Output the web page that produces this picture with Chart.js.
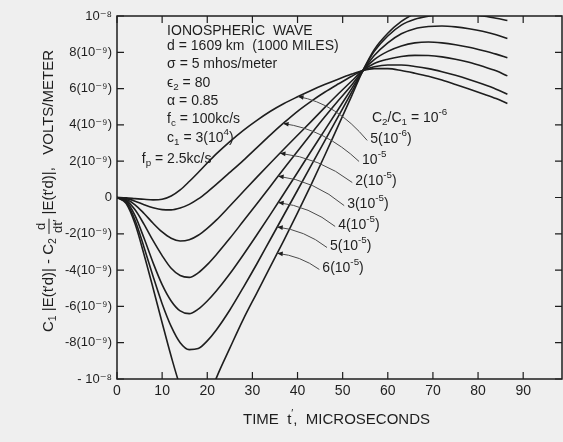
<!DOCTYPE html>
<html lang="en">
  <head>
    <meta charset="UTF-8" />
    <title>Ionospheric Wave</title>
    <style>
      body {
        margin: 0;
        background: #efefef;
      }
      #wrap {
        width: 563px;
        height: 442px;
      }
    </style>
  </head>
  <body>
    <div id="wrap"><canvas id="waveChart" width="563" height="442"></canvas></div>

    <script src="https://cdn.jsdelivr.net/npm/chart.js"></script>
    <script>
      // time axis, microseconds
      const timeUs = [0, 2, 4, 6, 8, 10, 12, 14, 16, 18, 20, 22, 25, 28, 31, 34, 37, 40, 43, 46, 49, 52, 54.5, 57, 60, 63, 66, 69, 72, 75, 78, 81, 84, 86.5];

      // curve values in units of 10^-9 volts/meter
      const curve1 = [0, -0.02, -0.06, -0.1, -0.13, -0.1, 0.08, 0.42, 0.88, 1.38, 1.9, 2.4, 3.08, 3.7, 4.25, 4.75, 5.18, 5.55, 5.9, 6.22, 6.52, 6.8, 7.0, 7.1, 7.1, 7.0, 6.85, 6.68, 6.47, 6.23, 5.98, 5.72, 5.45, 5.18];
      const curve2 = [0, -0.05, -0.2, -0.4, -0.57, -0.67, -0.68, -0.58, -0.38, -0.08, 0.3, 0.72, 1.38, 2.05, 2.75, 3.45, 4.12, 4.75, 5.3, 5.8, 6.25, 6.68, 7.0, 7.2, 7.3, 7.3, 7.22, 7.1, 6.93, 6.73, 6.5, 6.25, 5.97, 5.69];
      const curve3 = [0, -0.1, -0.4, -0.88, -1.42, -1.9, -2.25, -2.4, -2.33, -2.08, -1.7, -1.25, -0.47, 0.33, 1.12, 1.9, 2.67, 3.43, 4.18, 4.95, 5.7, 6.42, 7.0, 7.38, 7.62, 7.77, 7.83, 7.82, 7.75, 7.62, 7.45, 7.23, 6.98, 6.7];
      const curve4 = [0, -0.15, -0.68, -1.48, -2.38, -3.2, -3.9, -4.3, -4.4, -4.15, -3.7, -3.15, -2.25, -1.3, -0.35, 0.62, 1.6, 2.55, 3.5, 4.43, 5.33, 6.2, 7.0, 7.6, 8.05, 8.35, 8.52, 8.57, 8.52, 8.42, 8.28, 8.1, 7.9, 7.7];
      const curve5 = [0, -0.2, -1.0, -2.25, -3.6, -4.8, -5.7, -6.25, -6.4, -6.15, -5.7, -5.15, -4.2, -3.15, -2.05, -0.93, 0.22, 1.38, 2.55, 3.7, 4.85, 6.0, 6.97, 7.82, 8.52, 9.02, 9.3, 9.42, 9.45, 9.4, 9.3, 9.16, 8.97, 8.76];
      const curve6 = [0, -0.28, -1.25, -2.75, -4.35, -5.85, -7.1, -8.0, -8.38, -8.32, -7.9, -7.3, -6.2, -4.95, -3.65, -2.3, -0.95, 0.4, 1.75, 3.1, 4.45, 5.8, 7.0, 8.05, 8.9, 9.5, 9.82, 9.99, 10.1, 10.13, 10.1, 10.0, 9.88, 9.75];
      const curve7 = [0, -0.32, -1.45, -3.15, -5.0, -6.9, -8.75, -10.4, -11.5, -11.85, -11.3, -9.95, -8.3, -6.7, -5.25, -3.8, -2.35, -0.85, 0.7, 2.3, 3.95, 5.6, 7.0, 8.15, 9.05, 9.7, 10.15, 10.5, 10.75, 10.9, 11.0, 11.0, 10.95, 10.85];
      const curves = [curve1, curve2, curve3, curve4, curve5, curve6, curve7];

      // C2/C1 labels, one per curve: [mantissa, exponent, closing]
      const ratioLabels = [
        ["5(10", "-6", ")"],
        ["10", "-5", ""],
        ["2(10", "-5", ")"],
        ["3(10", "-5", ")"],
        ["4(10", "-5", ")"],
        ["5(10", "-5", ")"],
        ["6(10", "-5", ")"],
      ];
      // where each leader touches its curve (time) and where its label sits (time, value)
      const leaderTime = [40.1, 36.8, 36.1, 35.7, 35.7, 35.5, 35.5];
      const labelTime = [56.1, 54.3, 52.8, 51.0, 49.0, 47.2, 45.5];
      const labelValue = [3.2, 2.04, 0.88, -0.39, -1.54, -2.7, -3.91];

      const xTicks = [0, 10, 20, 30, 40, 50, 60, 70, 80, 90];
      const yTicks = [-10, -8, -6, -4, -2, 0, 2, 4, 6, 8, 10];
      const yTickLabels = ["- 10⁻⁸", "-8(10⁻⁹)", "-6(10⁻⁹)", "-4(10⁻⁹)", "-2(10⁻⁹)", "0", "2(10⁻⁹)", "4(10⁻⁹)", "6(10⁻⁹)", "8(10⁻⁹)", "10⁻⁸"];

      const FONT = '"Liberation Sans", "DejaVu Sans", sans-serif';
      const INK = "#1e1e1e";

      // parameter block, placed in data units
      const notes = [
        { t: 11.1, v: 9.15, parts: [["IONOSPHERIC  WAVE"]] },
        { t: 11.1, v: 8.32, parts: [["d = 1609 km  (1000 MILES)"]] },
        { t: 11.1, v: 7.33, parts: [["σ = 5 mhos/meter"]] },
        { t: 11.1, v: 6.28, parts: [["ϵ"], ["2", "sub"], [" = 80"]] },
        { t: 11.1, v: 5.29, parts: [["α = 0.85"]] },
        { t: 11.1, v: 4.3, parts: [["f"], ["c", "sub"], [" = 100kc/s"]] },
        { t: 11.1, v: 3.25, parts: [["c"], ["1", "sub"], [" = 3(10"], ["4", "sup"], [")"]] },
        { t: 5.5, v: 2.09, parts: [["f"], ["p", "sub"], [" = 2.5kc/s"]] },
        { t: 56.5, v: 4.35, parts: [["C"], ["2", "sub"], ["/C"], ["1", "sub"], [" = 10"], ["-6", "sup"]] },
      ];

      function drawRich(ctx, parts, x, y, size, measureOnly) {
        let cx = x;
        for (const [text, kind] of parts) {
          const s = kind ? size * 0.7 : size;
          ctx.font = `${s}px ${FONT}`;
          const dy = kind === "sub" ? size * 0.3 : kind === "sup" ? -size * 0.42 : 0;
          if (!measureOnly) ctx.fillText(text, cx, y + dy);
          cx += ctx.measureText(text).width;
        }
        return cx - x;
      }

      function valueAt(arr, t) {
        for (let i = 1; i < timeUs.length; i++) {
          if (t <= timeUs[i]) {
            const f = (t - timeUs[i - 1]) / (timeUs[i] - timeUs[i - 1]);
            return arr[i - 1] + f * (arr[i] - arr[i - 1]);
          }
        }
        return arr[arr.length - 1];
      }

      const decorations = {
        id: "decorations",
        afterDraw(chart) {
          const { ctx, chartArea: a, scales } = chart;
          const xs = scales.x, ys = scales.y;
          ctx.save();
          ctx.strokeStyle = INK;
          ctx.fillStyle = INK;

          // frame
          ctx.lineWidth = 1.5;
          ctx.strokeRect(a.left, a.top, a.right - a.left, a.bottom - a.top);

          // inward ticks on all four sides
          ctx.lineWidth = 1.2;
          ctx.beginPath();
          xTicks.forEach((v) => {
            const px = xs.getPixelForValue(v);
            ctx.moveTo(px, a.bottom); ctx.lineTo(px, a.bottom - 7);
            ctx.moveTo(px, a.top); ctx.lineTo(px, a.top + 7);
          });
          yTicks.forEach((v) => {
            const py = ys.getPixelForValue(v);
            ctx.moveTo(a.left, py); ctx.lineTo(a.left + 7, py);
            ctx.moveTo(a.right, py); ctx.lineTo(a.right - 7, py);
          });
          ctx.stroke();

          // parameter notes
          ctx.textBaseline = "middle";
          ctx.textAlign = "left";
          notes.forEach((n) => {
            drawRich(ctx, n.parts, xs.getPixelForValue(n.t), ys.getPixelForValue(n.v), 14);
          });

          // leaders and ratio labels
          ratioLabels.forEach((lab, i) => {
            const tx = xs.getPixelForValue(leaderTime[i]);
            const ty = ys.getPixelForValue(valueAt(curves[i], leaderTime[i]));
            const lx = xs.getPixelForValue(labelTime[i]);
            const ly = ys.getPixelForValue(labelValue[i]);
            const ex = lx - 3, ey = ly + 1;
            const cx = tx + 0.55 * (ex - tx), cy = ty + 0.15 * (ey - ty);
            ctx.strokeStyle = "#4a4a4a";
            ctx.lineWidth = 1;
            ctx.beginPath();
            ctx.moveTo(tx, ty);
            ctx.quadraticCurveTo(cx, cy, ex, ey);
            ctx.stroke();
            // arrow head at the curve
            const ang = Math.atan2(ty - cy, tx - cx);
            ctx.fillStyle = INK;
            ctx.beginPath();
            ctx.moveTo(tx, ty);
            ctx.lineTo(tx - 6 * Math.cos(ang - 0.4), ty - 6 * Math.sin(ang - 0.4));
            ctx.lineTo(tx - 6 * Math.cos(ang + 0.4), ty - 6 * Math.sin(ang + 0.4));
            ctx.closePath();
            ctx.fill();
            drawRich(ctx, [[lab[0]], [lab[1], "sup"], [lab[2]]], lx, ly, 14);
          });

          // x axis title
          ctx.textAlign = "left";
          const xParts = [["TIME  t"], ["′", "sup"], [",  MICROSECONDS"]];
          const xw = drawRich(ctx, xParts, 0, 0, 15, true);
          drawRich(ctx, xParts, (a.left + a.right) / 2 - 3 - xw / 2, 420, 15);

          // y axis title, rotated, with a stacked d/dt'
          const partA = [["C"], ["1", "sub"], [" |E(t′d)| - C"], ["2", "sub"], [" "]];
          const partB = [[" |E(t′d)|,   VOLTS/METER"]];
          ctx.font = `13px ${FONT}`;
          const fracW = ctx.measureText("dt′").width + 2;
          const wA = drawRich(ctx, partA, 0, 0, 15, true);
          const wB = drawRich(ctx, partB, 0, 0, 15, true);
          const total = wA + fracW + wB;
          const sx = Math.min(1, 300 / total);
          ctx.translate(49, 191);
          ctx.rotate(-Math.PI / 2);
          ctx.scale(sx, 1);
          let x0 = -total / 2;
          drawRich(ctx, partA, x0, 0, 15);
          x0 += wA;
          ctx.font = `13px ${FONT}`;
          ctx.textAlign = "center";
          ctx.fillText("d", x0 + fracW / 2, -8);
          ctx.fillText("dt′", x0 + fracW / 2, 9);
          ctx.lineWidth = 1;
          ctx.strokeStyle = INK;
          ctx.beginPath();
          ctx.moveTo(x0, 0);
          ctx.lineTo(x0 + fracW, 0);
          ctx.stroke();
          ctx.textAlign = "left";
          drawRich(ctx, partB, x0 + fracW, 0, 15);
          ctx.restore();
        },
      };

      const datasets = curves.map((vals, i) => ({
        label: "C2/C1 = " + ratioLabels[i].join(""),
        data: timeUs.map((t, j) => ({ x: t, y: vals[j] })),
        borderColor: INK,
        borderWidth: 1.6,
        pointRadius: 0,
        fill: false,
        clip: 0,
        cubicInterpolationMode: "monotone",
      }));

      new Chart(document.getElementById("waveChart").getContext("2d"), {
        type: "line",
        data: { datasets },
        options: {
          responsive: false,
          animation: false,
          layout: { padding: { top: 16, right: 1, left: 0, bottom: 0 } },
          plugins: { legend: { display: false }, tooltip: { enabled: false } },
          scales: {
            x: {
              type: "linear",
              min: 0,
              max: 98.6,
              afterBuildTicks: (s) => {
                s.ticks = xTicks.map((v) => ({ value: v }));
              },
              afterFit: (s) => {
                s.height = 63;
              },
              grid: { display: false, drawTicks: false },
              border: { display: false },
              ticks: {
                color: INK,
                padding: 4,
                maxRotation: 0,
                autoSkip: false,
                font: { size: 14, family: FONT },
              },
            },
            y: {
              type: "linear",
              min: -10,
              max: 10,
              afterBuildTicks: (s) => {
                s.ticks = yTicks.map((v) => ({ value: v }));
              },
              afterFit: (s) => {
                s.width = 117;
              },
              grid: { display: false, drawTicks: false },
              border: { display: false },
              ticks: {
                color: INK,
                padding: 5,
                autoSkip: false,
                font: { size: 13, family: FONT },
                callback: (v) => yTickLabels[yTicks.indexOf(v)],
              },
            },
          },
        },
        plugins: [decorations],
      });
    </script>
  </body>
</html>
